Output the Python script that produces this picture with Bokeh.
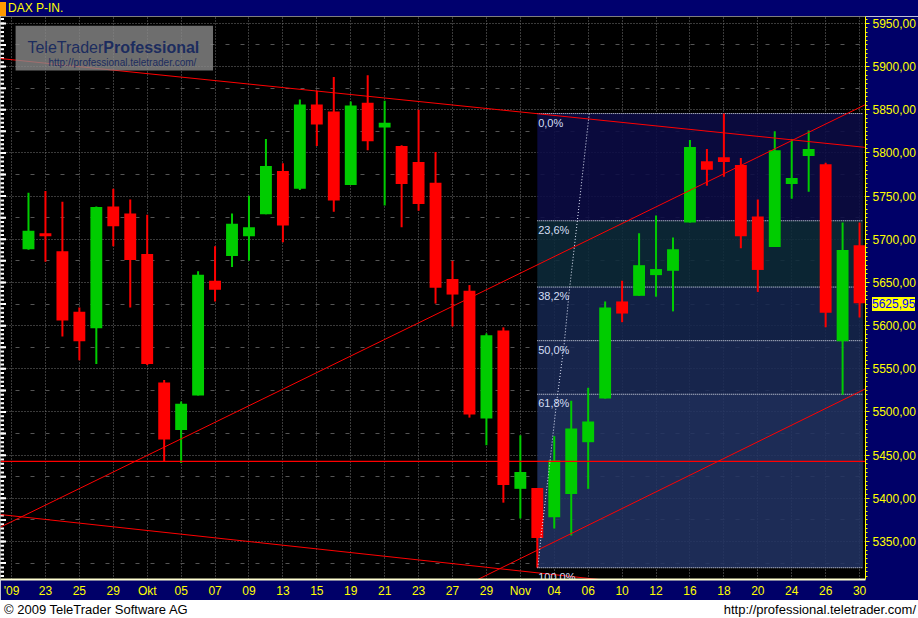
from bokeh.plotting import figure
from bokeh.models import (ColumnDataSource, FixedTicker, Range1d, Label, BoxAnnotation, Div)
from bokeh.layouts import column
from bokeh.core.properties import value
from bokeh.embed import file_html
from bokeh.resources import INLINE

# ---------------- data (DAX daily candles, 22 Sep - 30 Nov 2009) ----------------
day_index = list(range(50))
opens = [5688.5, 5707, 5686, 5616, 5597, 5738, 5730, 5683, 5534, 5479,
         5519, 5652, 5680.5, 5703.5, 5729, 5779, 5758.5, 5856, 5848, 5763,
         5858, 5829.5, 5808, 5789.5, 5765.5, 5654, 5640.5, 5492.5, 5594.5, 5411,
         5412, 5378, 5405, 5465, 5515.5, 5628, 5634.5, 5658.5, 5663.5, 5719.5,
         5790.5, 5795, 5786, 5726.5, 5691, 5764, 5796.5, 5787, 5582, 5693]
highs = [5754, 5756, 5743.5, 5621, 5738, 5758.5, 5746, 5728.5, 5537, 5512,
         5663, 5692, 5730, 5750.5, 5816, 5788, 5862, 5872, 5888, 5859.5,
         5890, 5860.5, 5809, 5850, 5801, 5675, 5647, 5591, 5598, 5473,
         5412, 5472, 5513, 5528, 5628, 5652, 5707, 5727.5, 5702, 5815,
         5804.5, 5845.6, 5794, 5746, 5825, 5816, 5826, 5788.5, 5719.5, 5719.5]
lows = [5688, 5674, 5587.5, 5560, 5555.5, 5692, 5621, 5554.5, 5443, 5441,
        5519, 5628, 5668, 5675, 5729, 5696.5, 5757, 5808, 5732, 5763,
        5803, 5739, 5714, 5733, 5625.5, 5599, 5493.5, 5461.5, 5395, 5376.5,
        5319.6, 5365, 5357, 5411, 5515.5, 5604, 5634.5, 5633.5, 5616.5, 5719.5,
        5762, 5772.5, 5689.5, 5639, 5691, 5747, 5755, 5598, 5520, 5609.5]
closes = [5710, 5703.5, 5606, 5582, 5737.5, 5715, 5676, 5555.5, 5468, 5509.5,
          5659, 5641.5, 5718, 5714, 5785, 5716, 5856, 5833, 5745, 5855,
          5813.5, 5835, 5764, 5741, 5644, 5636, 5497, 5589, 5415.5, 5430.5,
          5354, 5444, 5481, 5489, 5621, 5614, 5670, 5665.5, 5688.5, 5807,
          5780.5, 5789.5, 5703.5, 5664.5, 5803, 5771, 5804.5, 5615, 5687.5, 5625.95]
last_price = 5625.95
last_price_text = "5625,95"

# date axis: one label every second trading day
tick_index = list(range(-1, 50, 2))
tick_labels = ["'09", "23", "25", "29", "Okt", "05", "07", "09", "13", "15", "19", "21", "23",
               "27", "29", "Nov", "04", "06", "10", "12", "16", "18", "20", "24", "26", "30"]

# price axis
price_ticks = [5350, 5400, 5450, 5500, 5550, 5600, 5650, 5700, 5750, 5800, 5850, 5900, 5950]
price_labels = ["5350,00", "5400,00", "5450,00", "5500,00", "5550,00", "5600,00", "5650,00",
                "5700,00", "5750,00", "5800,00", "5850,00", "5900,00", "5950,00"]
price_mid_ticks = [5325, 5375, 5425, 5475, 5525, 5575, 5625, 5675, 5725, 5775, 5825, 5875, 5925]
price_fine_ticks = list(range(5310, 5960, 5))

# trend lines (anchor points in index / price)
trend_x = [-1.65, 49.35]
falling_top = [5909.3, 5806.4]
falling_bottom = [5381.2, 5272.5]
rising_top = [5366.7, 5856.0]
rising_bottom = [5034.2, 5526.8]
support_level = 5442.8

# Fibonacci retracement (Nov 2 low -> Nov 18 high)
fib_start = 30
fib_end = 49.2
fib_ratios = [0.0, 0.236, 0.382, 0.5, 0.618, 1.0]
fib_texts = ["0,0%", "23,6%", "38,2%", "50,0%", "61,8%", "100,0%"]
fib_colors = ["#0b0b46", "#0c2a3a", "#15254f", "#1a2a56", "#213262"]
arc_x = [33.06, 32.35, 31.88, 31.59, 31.12, 30.71, 30.24, 30.03]
arc_y = [5845.5, 5719.5, 5639.2, 5579.6, 5508.5, 5436.2, 5359.4, 5319.6]

# ---------------- layout constants ----------------
W = 918
HEADER_H = 16
FIG_H = 584
FOOTER_H = 18
X0, X1 = -1.65, 49.35
Y0, Y1 = 5306, 5958

p = figure(width=W, height=FIG_H, x_range=Range1d(X0, X1), y_range=Range1d(Y0, Y1),
           y_axis_location="right", toolbar_location=None, output_backend="svg",
           background_fill_color="#000000", border_fill_color="#000068",
           min_border_left=0, min_border_top=0, min_border_bottom=0, min_border_right=0,
           outline_line_color=None)

# grids
p.xgrid.ticker = FixedTicker(ticks=tick_index)
p.xgrid.grid_line_color = "#747474"
p.xgrid.grid_line_dash = "1 2"
p.ygrid.ticker = FixedTicker(ticks=price_ticks, minor_ticks=price_mid_ticks)
p.ygrid.grid_line_color = "#747474"
p.ygrid.grid_line_dash = "1 2"
p.ygrid.minor_grid_line_color = "#555555"
p.ygrid.minor_grid_line_dash = "4 11"

# bottom (date) axis
xa = p.xaxis[0]
xa.ticker = FixedTicker(ticks=tick_index)
xa.major_label_overrides = dict(zip(tick_index, tick_labels))
xa.major_tick_line_color = None
xa.minor_tick_line_color = None
xa.major_tick_out = 0
xa.major_tick_in = 0
xa.axis_line_color = "#ffffd0"
xa.axis_line_width = 2
xa.major_label_text_color = "#ffff00"
xa.major_label_text_font = "Liberation Sans"
xa.major_label_text_font_size = "12px"
xa.major_label_standoff = 4

# right (price) axis
ya = p.yaxis[0]
ya.ticker = FixedTicker(ticks=price_ticks, minor_ticks=price_fine_ticks)
ya.major_label_overrides = dict(zip(price_ticks, price_labels))
ya.axis_line_color = "#ffff00"
ya.major_tick_line_color = "#ffff00"
ya.minor_tick_line_color = "#ffff00"
ya.major_tick_out = 4
ya.major_tick_in = 0
ya.minor_tick_out = 2
ya.minor_tick_in = 0
ya.major_label_text_color = "#ffff00"
ya.major_label_text_font = "Liberation Sans"
ya.major_label_text_font_size = "12px"
ya.major_label_standoff = 3

# left tick ruler (white ticks pointing into the chart, half of each dash clipped by the frame)
p.scatter(x=[X0] * len(price_fine_ticks), y=price_fine_ticks, marker="dash", size=7,
          line_color="#ffffff", line_width=2)
p.scatter(x=[X0] * (len(price_ticks) + len(price_mid_ticks)), y=price_ticks + price_mid_ticks,
          marker="dash", size=11, line_color="#ffffff", line_width=2)

# Fibonacci zones
fib_hi = highs[41]
fib_lo = lows[30]
fib_levels = [fib_hi - r * (fib_hi - fib_lo) for r in fib_ratios]
zones = ColumnDataSource(dict(top=fib_levels[:-1], bottom=fib_levels[1:], color=fib_colors))
p.quad(left=fib_start, right=fib_end, top="top", bottom="bottom", source=zones,
       fill_color="color", fill_alpha=0.88, line_color=None)
p.segment(x0=fib_start, x1=fib_end, y0=fib_levels, y1=fib_levels,
          line_color="#e6ecff", line_dash="1 1", line_width=1)

# candles
colors = ["#00cc00" if c >= o else "#ff0000" for o, c in zip(opens, closes)]
src = ColumnDataSource(dict(x=day_index, o=opens, h=highs, l=lows, c=closes, color=colors,
                            top=[max(o, c) for o, c in zip(opens, closes)],
                            bottom=[min(o, c) for o, c in zip(opens, closes)]))
p.segment(x0="x", y0="l", x1="x", y1="h", line_color="color", line_width=2, source=src)
p.vbar(x="x", width=0.7, top="top", bottom="bottom", fill_color="color", line_color=None, source=src)

# trend lines
for ys in (falling_top, falling_bottom, rising_top, rising_bottom):
    p.line(trend_x, ys, line_color="#ff0000", line_width=1)
p.line(trend_x, [support_level, support_level], line_color="#ff0000", line_width=1.3)

# fib connecting curve and labels
p.line(arc_x, arc_y, line_color="#e6ecff", line_dash="1 2", line_width=1)
p.text(x=[fib_start + 0.05] * len(fib_levels), y=fib_levels, text=fib_texts,
       text_font=value("Liberation Sans"), text_font_size="11px", text_color="#d4def4",
       text_baseline="top", y_offset=3)

# watermark
p.add_layout(BoxAnnotation(left=-0.76, right=10.88, top=5947.4, bottom=5895.6,
                           fill_color="#8a8a8a", fill_alpha=0.8, line_color=None))
p.add_layout(Label(x=-0.06, y=5922, text="TeleTrader", text_font="Liberation Sans",
                   text_font_size="16px", text_color="#1c2c5e", text_baseline="alphabetic"))
p.add_layout(Label(x=4.41, y=5922, text="Professional", text_font="Liberation Sans",
                   text_font_size="16px", text_font_style="bold", text_color="#1c2c5e",
                   text_baseline="alphabetic"))
p.add_layout(Label(x=1.18, y=5904.5, text="http://professional.teletrader.com/",
                   text_font="Liberation Sans", text_font_size="10px", text_color="#1c2c5e",
                   text_baseline="alphabetic"))

# ---------------- header / footer ----------------
header = Div(text=(
    '<div style="width:%dpx;height:%dpx;background:#00006e;position:relative;overflow:hidden;">'
    '<div style="position:absolute;left:0;top:2px;width:6px;height:14px;background:#ff9a00;"></div>'
    '<span style="position:absolute;left:8px;top:1px;font-family:\'Liberation Sans\';font-size:12px;'
    'line-height:15px;color:#ffff00;">DAX P-IN.</span></div>') % (W, HEADER_H),
    width=W, height=HEADER_H, margin=0)

# last price box sits on the price axis: frame spans HEADER_H .. HEADER_H + frame height
frame_h = FIG_H - 18
last_y = HEADER_H + (Y1 - last_price) / (Y1 - Y0) * frame_h
box_top = last_y - 7 - (HEADER_H + FIG_H)

footer = Div(text=(
    '<div style="width:%dpx;height:%dpx;background:#ffffff;position:relative;'
    'font-family:\'Liberation Sans\';font-size:13px;color:#000000;">'
    '<span style="position:absolute;left:4px;top:2px;line-height:15px;">© 2009 TeleTrader Software AG</span>'
    '<span style="position:absolute;right:2px;top:2px;line-height:15px;">http://professional.teletrader.com/</span>'
    '<span style="position:absolute;left:872px;top:%.1fpx;width:43px;height:14px;background:#ffff00;'
    'color:#0000ff;font-size:12px;line-height:14px;text-align:center;z-index:100;">%s</span>'
    '</div>') % (W, FOOTER_H, box_top, last_price_text),
    width=W, height=FOOTER_H, margin=0)

layout = column(header, p, footer, spacing=0)
open("out.html", "w").write(file_html(layout, INLINE))
